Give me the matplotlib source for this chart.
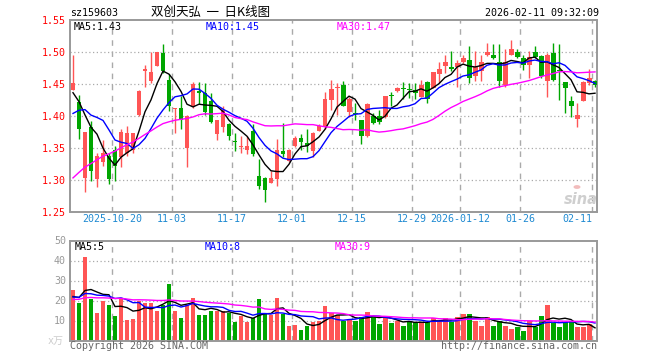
import matplotlib
matplotlib.use('Agg')
import matplotlib.pyplot as plt
import matplotlib.transforms as mtransforms
import numpy as np

plt.rcParams['font.family'] = ['DejaVu Sans Mono', 'Noto Sans CJK SC']

# ---------------- data ----------------
symbol = "sz159603"
title = "双创天弘  一  日K线图"
timestamp = "2026-02-11 09:32:09"

tick_labels = ["2025-10-20", "11-03", "11-17", "12-01", "12-15", "12-29",
               "2026-01-12", "01-26", "02-11"]
tick_index = [7, 17, 27, 37, 47, 57, 65, 75, 87]

open_ = [1.440, 1.422, 1.303, 1.383, 1.301, 1.328, 1.338, 1.347, 1.336, 1.342,
         1.347, 1.401, 1.471, 1.454, 1.478, 1.498, 1.457, 1.411, 1.413, 1.350,
         1.415, 1.439, 1.436, 1.423, 1.372, 1.383, 1.388, 1.360, 1.351, 1.347,
         1.376, 1.306, 1.303, 1.296, 1.301, 1.345, 1.330, 1.353, 1.366, 1.358,
         1.345, 1.377, 1.383, 1.425, 1.443, 1.449, 1.407, 1.404, 1.393, 1.368,
         1.400, 1.400, 1.398, 1.432, 1.439, 1.443, 1.442, 1.441, 1.430, 1.453,
         1.444, 1.466, 1.478, 1.477, 1.477, 1.484, 1.488, 1.462, 1.470, 1.496,
         1.496, 1.485, 1.449, 1.496, 1.500, 1.491, 1.480, 1.500, 1.494, 1.454,
         1.498, 1.472, 1.453, 1.424, 1.396, 1.424, 1.452, 1.454]
high = [1.496, 1.433, 1.375, 1.392, 1.342, 1.363, 1.342, 1.353, 1.380, 1.385,
        1.374, 1.440, 1.479, 1.500, 1.500, 1.512, 1.465, 1.413, 1.431, 1.401,
        1.453, 1.453, 1.451, 1.436, 1.394, 1.415, 1.389, 1.373, 1.369, 1.369,
        1.387, 1.333, 1.304, 1.314, 1.364, 1.389, 1.348, 1.368, 1.372, 1.379,
        1.375, 1.388, 1.437, 1.457, 1.452, 1.455, 1.430, 1.420, 1.393, 1.420,
        1.404, 1.409, 1.432, 1.437, 1.445, 1.453, 1.451, 1.451, 1.457, 1.454,
        1.469, 1.485, 1.496, 1.501, 1.488, 1.496, 1.509, 1.501, 1.496, 1.514,
        1.512, 1.512, 1.504, 1.519, 1.504, 1.496, 1.501, 1.509, 1.496, 1.498,
        1.514, 1.512, 1.453, 1.432, 1.420, 1.454, 1.473, 1.457]
low = [1.440, 1.364, 1.281, 1.298, 1.289, 1.322, 1.294, 1.298, 1.320, 1.337,
       1.342, 1.400, 1.445, 1.452, 1.478, 1.467, 1.408, 1.373, 1.379, 1.320,
       1.413, 1.418, 1.402, 1.389, 1.362, 1.375, 1.363, 1.345, 1.342, 1.340,
       1.337, 1.286, 1.265, 1.296, 1.290, 1.336, 1.328, 1.352, 1.347, 1.344,
       1.336, 1.377, 1.379, 1.410, 1.402, 1.416, 1.398, 1.394, 1.357, 1.367,
       1.387, 1.387, 1.397, 1.416, 1.437, 1.427, 1.428, 1.427, 1.429, 1.420,
       1.443, 1.452, 1.467, 1.470, 1.446, 1.483, 1.452, 1.454, 1.454, 1.493,
       1.489, 1.446, 1.446, 1.496, 1.490, 1.472, 1.459, 1.491, 1.459, 1.430,
       1.454, 1.425, 1.404, 1.398, 1.383, 1.423, 1.449, 1.446]
close = [1.451, 1.380, 1.375, 1.314, 1.338, 1.342, 1.301, 1.322, 1.375, 1.373,
         1.373, 1.439, 1.473, 1.468, 1.500, 1.471, 1.415, 1.413, 1.393, 1.400,
         1.450, 1.436, 1.407, 1.390, 1.393, 1.409, 1.368, 1.359, 1.353, 1.353,
         1.341, 1.290, 1.285, 1.303, 1.347, 1.341, 1.347, 1.366, 1.360, 1.353,
         1.373, 1.384, 1.426, 1.442, 1.445, 1.416, 1.426, 1.403, 1.368, 1.419,
         1.389, 1.390, 1.432, 1.431, 1.444, 1.442, 1.441, 1.436, 1.449, 1.426,
         1.468, 1.474, 1.484, 1.473, 1.483, 1.491, 1.459, 1.477, 1.484, 1.500,
         1.491, 1.454, 1.485, 1.504, 1.492, 1.480, 1.492, 1.492, 1.463, 1.496,
         1.457, 1.471, 1.444, 1.415, 1.402, 1.453, 1.459, 1.449]
volume = [25.5, 19.0, 42.0, 20.7, 14.0, 19.7, 18.0, 12.5, 21.5, 10.5,
          11.0, 20.0, 19.0, 18.8, 15.0, 18.0, 28.5, 15.0, 11.5, 18.0,
          21.5, 13.0, 13.0, 15.0, 15.0, 15.0, 13.8, 9.2, 12.2, 9.2,
          11.2, 21.0, 13.3, 12.8, 21.2, 13.3, 7.2, 8.0, 5.5, 7.2,
          9.5, 10.0, 17.5, 13.8, 12.8, 9.7, 10.8, 10.0, 11.7, 14.5,
          12.5, 8.5, 11.7, 9.0, 9.7, 7.5, 9.8, 9.2, 9.5, 9.2,
          11.5, 9.7, 11.5, 9.2, 12.0, 13.5, 13.5, 10.0, 7.5, 12.0,
          7.5, 10.0, 7.5, 6.0, 7.0, 5.0, 9.7, 7.0, 12.5, 18.0,
          9.0, 7.0, 9.2, 9.2, 6.7, 7.0, 8.3, 0.5]

# sessions before the first visible candle (estimated from the MA curves)
prior_close = [1.120, 1.130, 1.145, 1.160, 1.173, 1.190, 1.200, 1.215, 1.230, 1.245,
               1.270, 1.290, 1.300, 1.320, 1.310, 1.330, 1.340, 1.350, 1.360, 1.380,
               1.330, 1.365, 1.400, 1.375, 1.388, 1.450, 1.479, 1.410, 1.392]
prior_volume = [16, 18, 17, 20, 19, 22, 18, 21, 20, 23,
                19, 21, 22, 20, 18, 21, 22, 20, 19, 22,
                20, 23, 22, 21, 21, 21.5, 24.5, 18.2, 20.3]

price_legend = [("MA5:1.43", "#000000"), ("MA10:1.45", "#0000ff"), ("MA30:1.47", "#ff00ff")]
volume_legend = [("MA5:5", "#000000"), ("MA10:8", "#0000ff"), ("MA30:9", "#ff00ff")]
ma_periods = [5, 10, 30]
ma_colors = ["#000000", "#0000ff", "#ff00ff"]

# ---------------- figure ----------------
W, H = 660, 360
fig = plt.figure(figsize=(W / 100, H / 100), dpi=100)
fig.patch.set_facecolor('white')

def px_axes(l, t, r, b):
    return fig.add_axes([l / W, 1 - b / H, (r - l) / W, (b - t) / H])

def ftext(x, y, s, **kw):
    fig.text(x / W, 1 - y / H, s, **kw)

RED = "#ff5555"
GREEN = "#00a600"
GRID = "#aaaaaa"
FRAME = "#999999"
FS = 7.2

n = len(close)
x = np.arange(n)
o = np.array(open_); c = np.array(close); hi = np.array(high); lo = np.array(low)
v = np.array(volume)
up = c >= o
cols = np.where(up, RED, GREEN)

def moving_avg(prior, vals, p):
    allv = np.concatenate([prior, vals])
    k = np.ones(p) / p
    m = np.convolve(allv, k, mode='valid')
    return m[-len(vals):]

ax = px_axes(70, 20, 597, 212)
axv = px_axes(70, 240.5, 597, 340.5)

for a in (ax, axv):
    a.set_xlim(-0.5, 87.33)
    for s in a.spines.values():
        s.set_color(FRAME)
        s.set_linewidth(1.4)
    a.set_xticks([])
    a.tick_params(axis='y', length=0, pad=3)
    for ti in tick_index:
        a.axvline(ti - 0.5, color=GRID, lw=1.0, ls=(0, (4, 4)), zorder=0)

# price panel
ax.set_ylim(1.25, 1.55)
yt = [1.25, 1.30, 1.35, 1.40, 1.45, 1.50, 1.55]
ax.set_yticks(yt)
ax.set_yticklabels(["%.2f" % t for t in yt], color="#ff0000", fontsize=FS)
for t in yt[1:-1]:
    ax.axhline(t, color=GRID, lw=0.9, ls=(0, (1, 2)), zorder=0)

bw = 0.83
ax.vlines(x, lo, hi, colors=cols, lw=1.0, zorder=2)
body_h = np.maximum(np.abs(c - o), 0.0016)
ax.bar(x, body_h, bottom=np.minimum(o, c), width=bw, color=cols, lw=0, zorder=3)

for p, col in zip(ma_periods, ma_colors):
    ax.plot(x, moving_avg(prior_close, c, p), color=col, lw=1.0, zorder=4)

# volume panel
axv.set_ylim(0, 50)
vt = [10, 20, 30, 40, 50]
axv.set_yticks(vt)
axv.set_yticklabels([str(t) for t in vt], color="#999999", fontsize=FS)
for t in vt[:-1]:
    axv.axhline(t, color=GRID, lw=0.9, ls=(0, (1, 2)), zorder=0)
axv.bar(x, v, width=bw, color=cols, lw=0, zorder=2)
for p, col in zip(ma_periods, ma_colors):
    axv.plot(x, moving_avg(prior_volume, v, p), color=col, lw=1.0, zorder=4)

# date labels
trans = mtransforms.blended_transform_factory(ax.transData, fig.transFigure)
for k, (lab, ti) in enumerate(zip(tick_labels, tick_index)):
    ha = 'right' if k == len(tick_labels) - 1 else 'center'
    ax.text(ti - 0.5, 1 - 219 / H, lab, transform=trans, ha=ha, va='center',
            fontsize=FS, color="#1f8ad2", clip_on=False)

# header and legends
ftext(70, 13.5, symbol, fontsize=FS, color="#000000", va='center', ha='left')
ftext(151, 12.5, title, fontsize=9.0, color="#000000", va='center', ha='left',
      family=['Noto Sans CJK SC', 'DejaVu Sans'])
ftext(599, 13.5, timestamp, fontsize=FS, color="#000000", va='center', ha='right')

for (s, col), xx in zip(price_legend, [74, 206, 337]):
    ftext(xx, 26.5, s, fontsize=FS, color=col, va='center', ha='left')
for (s, col), xx in zip(volume_legend, [75, 205, 335]):
    ftext(xx, 246.5, s, fontsize=FS, color=col, va='center', ha='left')

ftext(64, 341, "x万", fontsize=FS, color="#cccccc", va='center', ha='right')
ftext(70, 346, "Copyright 2026 SINA.COM", fontsize=FS, color="#666666", va='center', ha='left')
ftext(597, 346, "http://finance.sina.com.cn", fontsize=FS, color="#666666", va='center', ha='right')

# watermark (logo drawn as a shape, word as text)
ftext(581, 199, "sina", fontsize=10.5, color="#cfcfcf", va='center', ha='center',
      style='italic', weight='bold', family=['DejaVu Sans'])
fig.add_artist(plt.Circle((577 / W, 1 - 187 / H), 3.5 / W, transform=fig.transFigure,
                          facecolor="#f2bcbc", edgecolor='none'))

fig.savefig("out.png", dpi=100, facecolor='white')
